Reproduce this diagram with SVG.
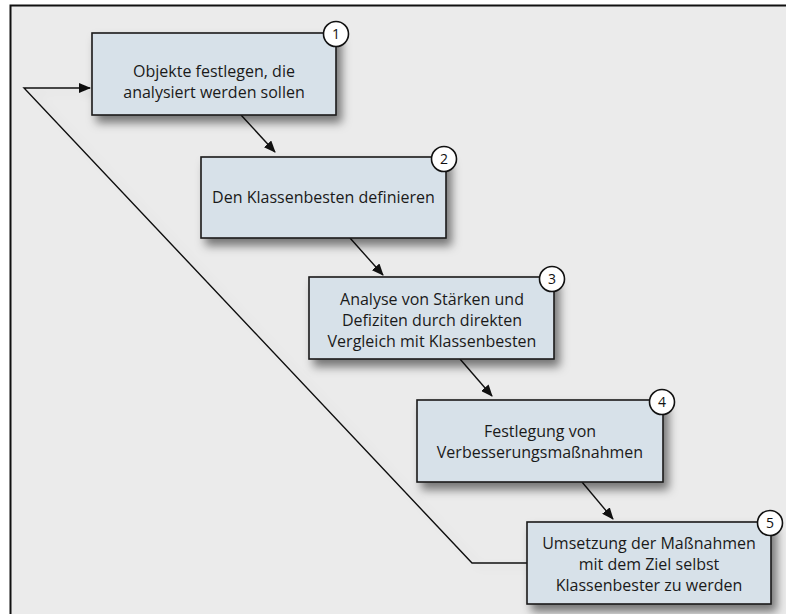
<svg xmlns="http://www.w3.org/2000/svg" width="786" height="614" viewBox="0 0 786 614">
<defs>
<style>
.box{fill:#d7e1e9;stroke:#1a1a1a;stroke-width:1.6}
.t{font-family:"Open Sans","Liberation Sans",sans-serif;font-size:16px;fill:#1a1a1a;text-anchor:middle}
.badge{fill:#fff;stroke:#111;stroke-width:1.6}
.n{font-family:"Open Sans","Liberation Sans",sans-serif;font-size:14px;fill:#111;text-anchor:middle}
.c{fill:none;stroke:#111;stroke-width:1.4}
</style>
<filter id="sh" x="-20%" y="-30%" width="150%" height="180%">
<feDropShadow dx="5" dy="7" stdDeviation="5" flood-color="#000" flood-opacity="0.5"/>
</filter>
<filter id="lsh" x="-20%" y="-20%" width="140%" height="140%">
<feDropShadow dx="8" dy="4" stdDeviation="4" flood-color="#000" flood-opacity="0.07"/>
</filter>
<marker id="ah" markerWidth="12" markerHeight="10" refX="11" refY="5" orient="auto" markerUnits="userSpaceOnUse">
<path d="M0,0 L12,5 L0,10 Z" fill="#111"/>
</marker>
</defs>
<rect x="0" y="0" width="786" height="614" fill="#fff"/>
<rect x="10.5" y="5.5" width="800" height="700" fill="#ebebeb" stroke="#111" stroke-width="2"/>
<g id="connectors">
<path class="c" filter="url(#lsh)" d="M527,563 L472,563 L24,88 L90,88" marker-end="url(#ah)"/>
<line class="c" x1="241" y1="115" x2="275" y2="152" marker-end="url(#ah)"/>
<line class="c" x1="350" y1="238" x2="383" y2="275" marker-end="url(#ah)"/>
<line class="c" x1="460" y1="359" x2="492" y2="396" marker-end="url(#ah)"/>
<line class="c" x1="582" y1="482" x2="613" y2="519" marker-end="url(#ah)"/>
</g>
<g id="node1">
<rect class="box" filter="url(#sh)" x="92" y="33" width="244" height="82"/>
<text class="t" x="214" y="77">Objekte festlegen, die</text>
<text class="t" x="214" y="98">analysiert werden sollen</text>
<circle class="badge" cx="336" cy="34" r="12.5"/>
<text class="n" x="336" y="39">1</text>
</g>
<g id="node2">
<rect class="box" filter="url(#sh)" x="201" y="157" width="245" height="81"/>
<text class="t" x="323.5" y="203">Den Klassenbesten definieren</text>
<circle class="badge" cx="444" cy="159" r="12.5"/>
<text class="n" x="444" y="164">2</text>
</g>
<g id="node3">
<rect class="box" filter="url(#sh)" x="309" y="277" width="245" height="82"/>
<text class="t" x="432" y="305">Analyse von Stärken und</text>
<text class="t" x="432" y="326">Defiziten durch direkten</text>
<text class="t" x="432" y="347">Vergleich mit Klassenbesten</text>
<circle class="badge" cx="552" cy="279" r="12.5"/>
<text class="n" x="552" y="284">3</text>
</g>
<g id="node4">
<rect class="box" filter="url(#sh)" x="417" y="400" width="246" height="82"/>
<text class="t" x="540" y="437">Festlegung von</text>
<text class="t" x="540" y="458">Verbesserungsmaßnahmen</text>
<circle class="badge" cx="662" cy="402" r="12.5"/>
<text class="n" x="662" y="407">4</text>
</g>
<g id="node5">
<rect class="box" filter="url(#sh)" x="527" y="522" width="244" height="82"/>
<text class="t" x="649" y="549">Umsetzung der Maßnahmen</text>
<text class="t" x="649" y="570">mit dem Ziel selbst</text>
<text class="t" x="649" y="591">Klassenbester zu werden</text>
<circle class="badge" cx="770" cy="523" r="12.5"/>
<text class="n" x="770" y="528">5</text>
</g>
</svg>
